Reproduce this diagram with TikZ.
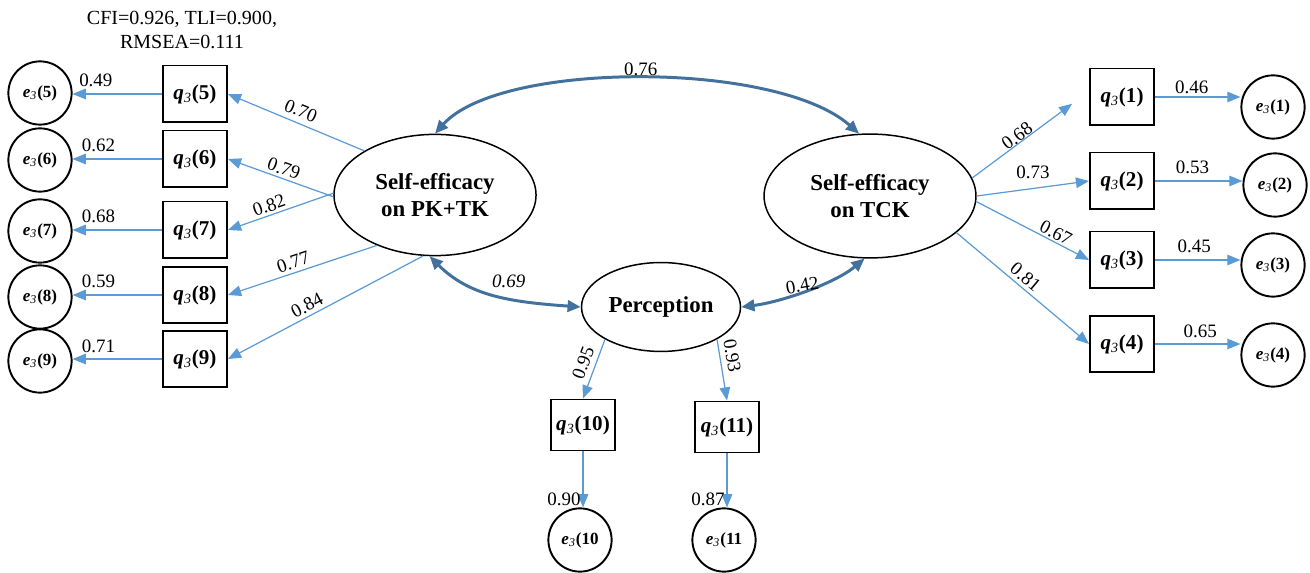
\documentclass[tikz,border=0pt]{standalone}
\usepackage{fontspec}
\setmainfont{Liberation Serif}
\usepackage{tikz}
\usetikzlibrary{arrows.meta}
\usetikzlibrary{positioning,shapes.geometric}

\definecolor{loadblue}{RGB}{91,155,213}
\definecolor{covblue}{RGB}{65,113,156}

\tikzset{
  item/.style={draw, line width=1.1pt, minimum width=36.4pt, minimum height=32.4pt, inner sep=1pt, font=\fontsize{12}{14}\selectfont},
  err/.style={draw, circle, line width=1.1pt, minimum size=36pt, inner sep=0pt, font=\fontsize{9.7}{11}\selectfont},
  latent/.style={draw, ellipse, line width=0.85pt, inner sep=0pt, align=center, font=\fontsize{13}{15.5}\selectfont\bfseries},
  load/.style={draw=loadblue, line width=0.7pt, -{Triangle[length=7.5pt,width=6pt]}},
  cov/.style={draw=covblue, line width=1.7pt, {Triangle[length=7.5pt,width=6.5pt]}-{Triangle[length=7.5pt,width=6.5pt]}},
  coef/.style={font=\fontsize{10.8}{12}\selectfont, inner sep=1pt}
}
\newcommand{\qi}[1]{\textbf{\textit{q}}\textsubscript{\textit{3}}\textbf{(#1)}}
\newcommand{\ei}[1]{\textbf{\textit{e}}\textsubscript{\textit{3}}\textbf{#1}}

\begin{document}
\begin{tikzpicture}[x=0.02cm, y=-0.02cm]
    \useasboundingbox (0,0) rectangle (1310,573);

    % Fit indices
    \node[font=\fontsize{11.4}{14.2}\selectfont, align=center] (fit) at (182,30) {CFI=0.926, TLI=0.900,\\RMSEA=0.111};

    % Latent variables
    \node[latent, minimum width=115pt, minimum height=69pt] (pk) at (435,195) {Self-efficacy\\on PK+TK};
    \node[latent, minimum width=120.6pt, minimum height=70.5pt] (tck) at (870,196) {Self-efficacy\\on TCK};
    \node[latent, minimum width=90.5pt, minimum height=50.6pt] (perc) at (661,307) {Perception};

    % Items, left
    \node[item] (q5) at (195,94) {\qi{5}};
    \node[item] (q6) at (195,159) {\qi{6}};
    \node[item] (q7) at (195,230) {\qi{7}};
    \node[item] (q8) at (195,295) {\qi{8}};
    \node[item] (q9) at (195,359) {\qi{9}};
    % Errors, left
    \node[err] (e5) at (40,93) {\ei{(5)}};
    \node[err] (e6) at (40,160) {\ei{(6)}};
    \node[err] (e7) at (40,231) {\ei{(7)}};
    \node[err] (e8) at (40,297) {\ei{(8)}};
    \node[err] (e9) at (40,361) {\ei{(9)}};

    % Items, right
    \node[item] (q1) at (1122,97) {\qi{1}};
    \node[item] (q2) at (1122,181) {\qi{2}};
    \node[item] (q3) at (1122,260) {\qi{3}};
    \node[item] (q4) at (1122,344) {\qi{4}};
    % Errors, right
    \node[err] (e1) at (1273,107) {\ei{(1)}};
    \node[err] (e2) at (1275,185) {\ei{(2)}};
    \node[err] (e3) at (1273,265) {\ei{(3)}};
    \node[err] (e4) at (1273,355) {\ei{(4)}};

    % Items and errors, bottom
    \node[item, minimum height=29pt] (q10) at (583,425) {\qi{10}};
    \node[item, minimum height=29pt] (q11) at (727,427) {\qi{11}};
    \node[err] (e10) at (580,540) {\ei{(10}};
    \node[err] (e11) at (724,540) {\ei{(11}};

    % Loadings PK+TK
    \draw[load] (pk.148) -- (q5.east) node[coef, sloped, above=2pt, pos=0.5] {0.70};
    \draw[load] (pk.181) -- (q6.east) node[coef, sloped, above=0.5pt, pos=0.5] {0.79};
    \draw[load] (pk.179) -- (q7.east) node[coef, sloped, above=0.5pt, pos=0.58] {0.82};
    \draw[load] (pk.221) -- (q8.east) node[coef, sloped, above=1pt, pos=0.54] {0.77};
    \draw[load] (pk.259) -- (q9.east) node[coef, sloped, above=1pt, pos=0.57] {0.84};

    % Errors left
    \draw[load] (q5.west) -- (q5.west -| e5.east) node[coef, above=2.5pt, pos=0.74] {0.49};
    \draw[load] (q6.west) -- (q6.west -| e6.east) node[coef, above=2.5pt, pos=0.71] {0.62};
    \draw[load] (q7.west) -- (q7.west -| e7.east) node[coef, above=3pt, pos=0.71] {0.68};
    \draw[load] (q8.west) -- (q8.west -| e8.east) node[coef, above=3pt, pos=0.71] {0.59};
    \draw[load] (q9.west) -- (q9.west -| e9.east) node[coef, above=2pt, pos=0.71] {0.71};

    % Loadings TCK
    \draw[load, shorten >=12pt] (tck.10) -- (q1.170) node[coef, sloped, above=-1pt, pos=0.42] {0.68};
    \draw[load] (tck.east) -- (q2.west) node[coef, above=4pt, pos=0.5] {0.73};
    \draw[load] (tck.-3) -- (q3.west) node[coef, sloped, above=0pt, pos=0.67] {0.67};
    \draw[load] (tck.337) -- (q4.west) node[coef, sloped, above=1pt, pos=0.47] {0.81};

    % Errors right
    \draw[load] (q1.east) -- (q1.east -| e1.west) node[coef, above=0.5pt, pos=0.43] {0.46};
    \draw[load] (q2.east) -- (q2.east -| e2.west) node[coef, above=3pt, pos=0.43] {0.53};
    \draw[load] (q3.east) -- (q3.east -| e3.west) node[coef, above=3pt, pos=0.46] {0.45};
    \draw[load] (q4.east) -- (q4.east -| e4.west) node[coef, above=2pt, pos=0.53] {0.65};

    % Loadings Perception
    \draw[load] (perc.210) -- (q10.north) node[coef, sloped, above=2pt, pos=0.47] {0.95};
    \draw[load] (perc.330) -- (q11.north) node[coef, sloped, above=2pt, pos=0.3] {0.93};
    \draw[load] (q10.south) -- (q10.south |- e10.north) node[coef, left, pos=0.85] {0.90};
    \draw[load] (q11.south) -- (q11.south |- e11.north) node[coef, left, pos=0.85] {0.87};

    % Covariances
    \draw[cov] (pk.north) .. controls +(65,-73) and +(-82,-73) .. (tck.100) node[coef, above, pos=0.5] {0.76};
    \draw[cov] (pk.265) .. controls +(40,40) and +(-70,-5) .. (perc.west) node[coef, above=4pt, pos=0.6] {\textit{0.69}};
    \draw[cov] (perc.east) .. controls +(40,-5) and +(-30,25) .. (tck.265) node[coef, above=-2pt, pos=0.48, rotate=10] {0.42};
\end{tikzpicture}
\end{document}
